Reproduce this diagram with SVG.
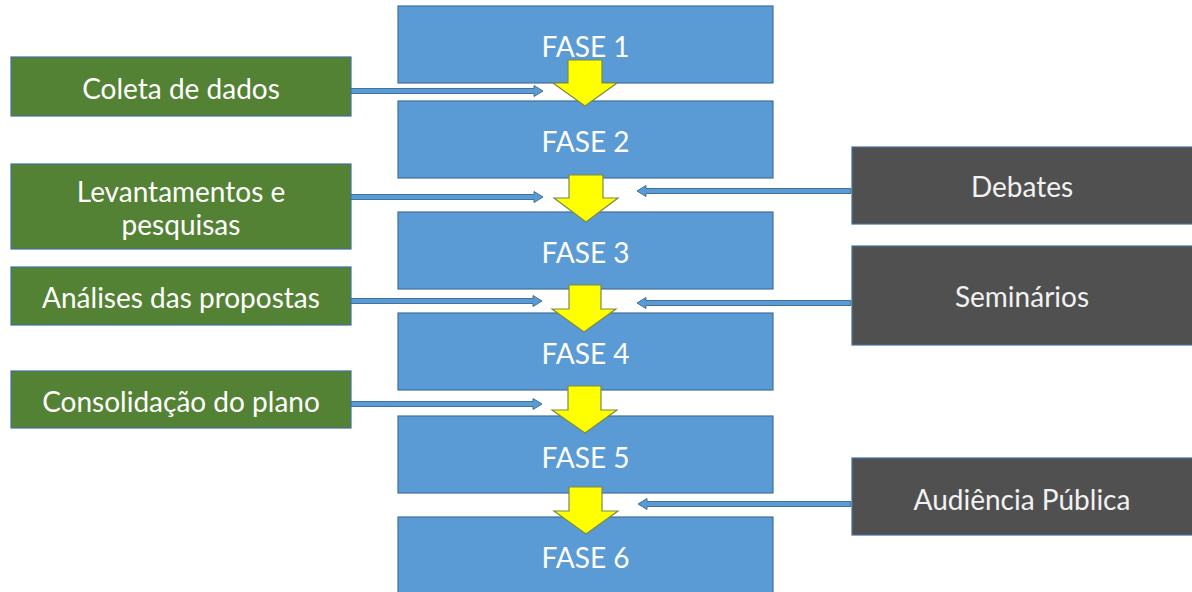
<svg xmlns="http://www.w3.org/2000/svg" width="1192" height="592" viewBox="0 0 1192 592">
<style>
.fase{fill:#5B9BD5;stroke:#41719C;stroke-width:1.2}
.green{fill:#548235;stroke:#41719C;stroke-width:1.2}
.gray{fill:#505050;stroke:#41719C;stroke-width:1.2}
.t{font-family:Lato,"Open Sans",sans-serif;font-size:28px;fill:#FFFFFF;text-anchor:middle}
.tg{font-family:Lato,"Open Sans",sans-serif;font-size:28px;fill:#F2F2F2;text-anchor:middle}
.ya{fill:#FFFF00;stroke:#7A8A4A;stroke-width:1.2}
.ba{fill:#5B9BD5;stroke:#41719C;stroke-width:1}
</style>
<rect width="1192" height="592" fill="#FFFFFF"/>
<g id="fase1"><rect class="fase" x="398" y="6" width="375" height="77"/><text class="t" x="585.5" y="57">FASE 1</text></g>
<g id="fase2"><rect class="fase" x="398" y="101" width="375" height="77"/><text class="t" x="585.5" y="152">FASE 2</text></g>
<g id="fase3"><rect class="fase" x="398" y="212" width="375" height="77"/><text class="t" x="585.5" y="263">FASE 3</text></g>
<g id="fase4"><rect class="fase" x="398" y="313" width="375" height="77"/><text class="t" x="585.5" y="364">FASE 4</text></g>
<g id="fase5"><rect class="fase" x="398" y="416" width="375" height="77"/><text class="t" x="585.5" y="468">FASE 5</text></g>
<g id="fase6"><rect class="fase" x="398" y="517" width="375" height="80"/><text class="t" x="585.5" y="568">FASE 6</text></g>
<g id="coleta"><rect class="green" x="11" y="57" width="340" height="59"/><text class="t" x="181" y="99">Coleta de dados</text></g>
<g id="levantamentos"><rect class="green" x="11" y="164" width="340" height="85"/><text class="t" x="181" y="202">Levantamentos e</text><text class="t" x="181" y="235">pesquisas</text></g>
<g id="analises"><rect class="green" x="11" y="267" width="340" height="58"/><text class="t" x="181" y="308">Análises das propostas</text></g>
<g id="consolidacao"><rect class="green" x="11" y="371" width="340" height="57"/><text class="t" x="181" y="412">Consolidação do plano</text></g>
<g id="debates"><rect class="gray" x="852" y="147" width="345" height="77"/><text class="tg" x="1022" y="197">Debates</text></g>
<g id="seminarios"><rect class="gray" x="852" y="246" width="345" height="99"/><text class="tg" x="1022" y="307">Seminários</text></g>
<g id="audiencia"><rect class="gray" x="852" y="458" width="345" height="77"/><text class="tg" x="1022" y="510">Audiência Pública</text></g>
<g id="connectors">
<path class="ya" d="M568,60 H602 V83 H617 L585,106 L553,83 H568 Z"/>
<path class="ya" d="M569,175 H603 V198 H618 L586,222 L554,198 H569 Z"/>
<path class="ya" d="M569,285 H601 V309 H616 L584,332 L552,309 H569 Z"/>
<path class="ya" d="M568,386 H601 V410 H617 L585,433 L552,410 H568 Z"/>
<path class="ya" d="M569,487 H602 V511 H618 L586,534 L554,511 H569 Z"/>
<path class="ba" d="M351,88.5 H534 V85.5 L543,91 L534,96.5 V93.5 H351 Z"/>
<path class="ba" d="M351,194.5 H534 V191.5 L543,197 L534,202.5 V199.5 H351 Z"/>
<path class="ba" d="M351,298.5 H533 V295.5 L542,301 L533,306.5 V303.5 H351 Z"/>
<path class="ba" d="M351,401.5 H533 V398.5 L542,404 L533,409.5 V406.5 H351 Z"/>
<path class="ba" d="M851,188.5 H646 V185.5 L637,191 L646,196.5 V193.5 H851 Z"/>
<path class="ba" d="M851,300.5 H646 V297.5 L637,303 L646,308.5 V305.5 H851 Z"/>
<path class="ba" d="M851,501.5 H647 V498.5 L638,504 L647,509.5 V506.5 H851 Z"/>
</g>
</svg>
